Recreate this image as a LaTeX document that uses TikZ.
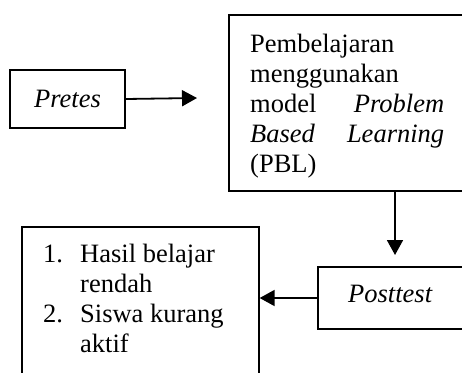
\documentclass[tikz,border=0pt]{standalone}
\usepackage{fontspec}
\setmainfont{Liberation Serif}
\usetikzlibrary{arrows.meta}
\tikzset{
  box/.style={draw=black, line width=1.3pt, rectangle, inner sep=0pt},
  txt/.style={inner sep=0pt, font=\fontsize{26.5}{30}\selectfont},
  conn/.style={line width=1.8pt, -{Triangle[length=15pt,width=16pt]}}
}
\begin{document}
\begin{tikzpicture}[x=1pt,y=-1pt]
\useasboundingbox (0,0) rectangle (462,372);
\clip (0,0) rectangle (462,372);
% boxes
\node[box, minimum width=115pt, minimum height=58pt, txt] (pretes) at (67.5,99) {\textit{Pretes}};
\node[box, minimum width=246pt, minimum height=176pt] (pbl) at (352,103) {};
\node[box, minimum width=157pt, minimum height=62pt] (post) at (396.5,298) {};
\node[box, minimum width=237pt, minimum height=170pt] (res) at (140.5,312) {};
% texts
\node[txt, anchor=base west] (pbltxt) at (250,52) {\parbox[t]{194pt}{\noindent
Pembelajaran\\
menggunakan\\
model\hfill\textit{Problem}\\
\textit{Based}\hfill\textit{Learning}\\
(PBL)}};
\node[txt, anchor=base west] (posttxt) at (348,302) {\textit{Posttest}};
\node[txt, anchor=base west] (restxt) at (43,262) {\begin{tabular}[t]{@{}p{37pt}@{}l@{}}
1. & Hasil belajar\\
   & rendah\\
2. & Siswa kurang\\
   & aktif
\end{tabular}};
% connectors
\coordinate (a1) at (197,98);
\coordinate (a2) at (395,255);
\draw[conn] (pretes.east) -- (a1);
\draw[conn] (pbl.south -| a2) -- (a2);
\draw[conn] (post.west) -- (res.east |- post.west);
\end{tikzpicture}
\end{document}
